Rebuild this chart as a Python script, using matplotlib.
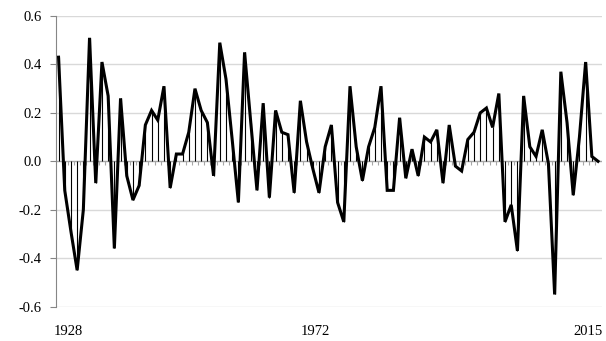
import numpy as np
import matplotlib
matplotlib.use('Agg')
import matplotlib.pyplot as plt

# yearly values, 1928-2015
years = list(range(1928, 2016))
values = [0.43, -0.12, -0.29, -0.45, -0.20, 0.51, -0.09, 0.41, 0.27, -0.36,
          0.26, -0.06, -0.16, -0.10, 0.15, 0.21, 0.17, 0.31, -0.11, 0.03,
          0.03, 0.12, 0.30, 0.21, 0.16, -0.06, 0.49, 0.34, 0.09, -0.17,
          0.45, 0.16, -0.12, 0.24, -0.15, 0.21, 0.12, 0.11, -0.13, 0.25,
          0.08, -0.03, -0.13, 0.06, 0.15, -0.17, -0.25, 0.31, 0.06, -0.08,
          0.06, 0.14, 0.31, -0.12, -0.12, 0.18, -0.07, 0.05, -0.06, 0.10,
          0.08, 0.13, -0.09, 0.15, -0.02, -0.04, 0.09, 0.12, 0.20, 0.22,
          0.14, 0.28, -0.25, -0.18, -0.37, 0.27, 0.06, 0.02, 0.13, -0.01,
          -0.55, 0.37, 0.16, -0.14, 0.10, 0.41, 0.02, 0.00]
y_ticks = [-0.6, -0.4, -0.2, 0.0, 0.2, 0.4, 0.6]
shown_years = ['1928', '1972', '2015']
shown_pos = [1929.5, 1969.4, 2013.4]

plt.rcParams['font.family'] = ['Liberation Serif', 'DejaVu Serif']

fig = plt.figure(figsize=(6.06, 3.41), dpi=100)
ax = fig.add_axes([0.092, 0.101, 0.901, 0.852])

x = np.array(years)
v = np.array(values)

for t in y_ticks:
    ax.axhline(t, color='#d9d9d9', lw=1.0, zorder=0)
ax.axhline(0, color='#a6a6a6', lw=0.9, zorder=1)

# small category ticks hanging under the zero line
ax.vlines(x[:-1] + 0.5, -0.017, 0, color='#a6a6a6', lw=0.8, zorder=1)

# drop lines from each point to zero
ax.vlines(x, 0, v, color='black', lw=0.8, zorder=2)
ax.plot(x, v, color='black', lw=2.2, zorder=3, solid_joinstyle='miter')

ax.set_xlim(years[0] - 0.45, years[-1] + 0.6)
ax.set_ylim(-0.6, 0.6)
ax.set_yticks(y_ticks)
ax.set_yticklabels(['%.1f' % t for t in y_ticks], fontsize=10.5)
ax.set_xticks(shown_pos)
ax.set_xticklabels(shown_years, fontsize=10.5)
ax.tick_params(axis='x', length=0, pad=13)
ax.tick_params(axis='y', length=4, width=0.8, color='#868686', pad=6)

for s in ['top', 'right', 'bottom']:
    ax.spines[s].set_visible(False)
ax.spines['left'].set_color('#868686')
ax.spines['left'].set_linewidth(0.8)

fig.savefig('out.png', dpi=100)
